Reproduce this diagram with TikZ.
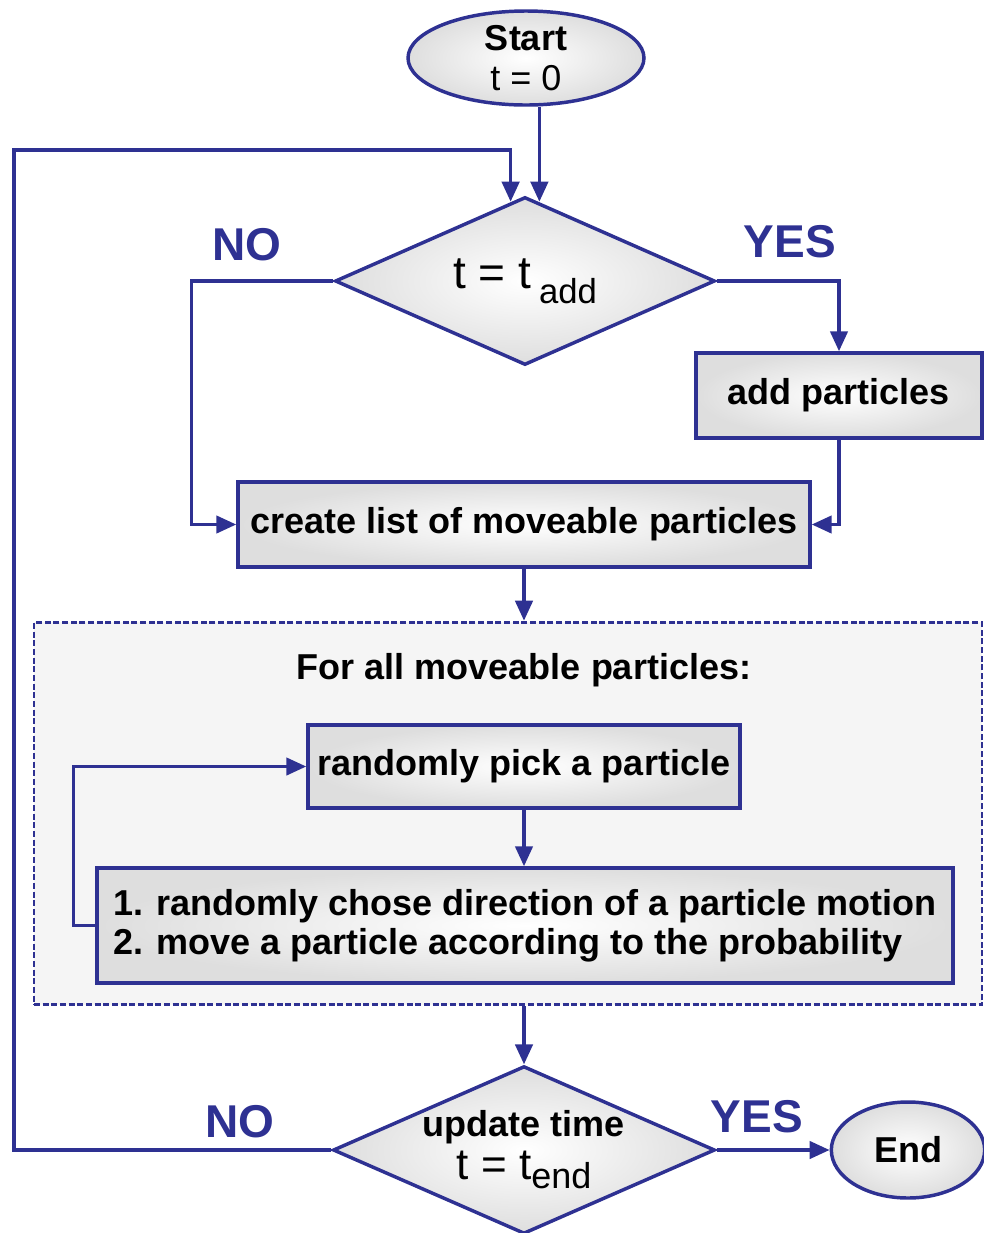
\documentclass[tikz,border=0pt]{standalone}
\usepackage{fontspec}
\setmainfont{Liberation Sans}
\usetikzlibrary{shapes.geometric,arrows.meta,calc}
\definecolor{fcblue}{RGB}{46,49,146}
\begin{document}
\begin{tikzpicture}[x=0.75pt,y=-0.75pt,
  line/.style={draw=fcblue,line width=2.6pt},
  arr/.style={line,-{Triangle[length=15pt,width=13pt]}},
  shaded/.style={draw=fcblue,line width=2.6pt,inner color=white,outer color=black!13,inner sep=0pt},
  box/.style={shaded,rectangle,font=\fontsize{27}{30}\selectfont\bfseries},
  term/.style={shaded,ellipse,font=\fontsize{27}{30}\selectfont},
  dec/.style={shaded,diamond,aspect=2.26,font=\fontsize{27}{30}\selectfont},
  lbl/.style={text=fcblue,font=\fontsize{34.5}{40}\selectfont\bfseries,inner sep=0pt}
]
\useasboundingbox (0,0) rectangle (984,1233);
% dashed loop region
\node[draw=fcblue,line width=2.2pt,dash pattern=on 4.5pt off 2pt,fill=black!4,
      minimum width=711pt,minimum height=287pt,inner sep=0pt] (loopbox) at (508,813.5) {};
\node[font=\fontsize{27}{30}\selectfont\bfseries,inner sep=0pt] (forall) at (524,670) {For all moveable particles:};

\node[term,minimum width=177pt,minimum height=70.5pt,align=center] (start) at (526,58)
  {\textbf{Start}\\t = 0};
\node[dec,minimum width=285pt,minimum height=126pt] (d1) at (525,281)
  {{\fontsize{34.5}{40}\selectfont t = t}\hspace{6pt}\raisebox{-11pt}{\fontsize{26}{30}\selectfont add}};
\node[box,minimum width=214.5pt,minimum height=63.75pt] (add) at (839,395.5) {add particles};
\node[box,minimum width=429pt,minimum height=63.75pt] (create) at (524,524.5) {create list of moveable particles};
\node[box,minimum width=324pt,minimum height=62.25pt] (pick) at (524,766.5) {randomly pick a particle};
\node[box,minimum width=642pt,minimum height=86.25pt,align=left] (move) at (525,925.5)
  {1. randomly chose direction of a particle motion\\[-1pt]2. move a particle according to the probability};
\node[dec,minimum width=286.5pt,minimum height=123pt,align=center] (d2) at (524,1150)
  {\textbf{update time}\\[2pt]{\fontsize{33}{36}\selectfont t = t}\raisebox{-7pt}{\fontsize{27}{30}\selectfont end}};
\node[term,minimum width=115pt,minimum height=72pt] (end) at (908,1150) {\textbf{End}};

\node[lbl] (no1) at (247,245) {NO};
\node[lbl] (yes1) at (790,242) {YES};
\node[lbl] (no2) at (240,1122) {NO};
\node[lbl] (yes2) at (757,1117) {YES};

% connectors
\coordinate (eR) at ($(d1.north)!0.075!(d1.east)$);
\coordinate (eL) at ($(d1.north)!0.075!(d1.west)$);
\coordinate (lx) at (14,150);
\draw[arr] (start.south -| eR) -- (eR);
\draw[arr] (d2.west) -| (lx) -| (eL);
\draw[arr] (d1.west) -- ++(-142,0) |- (create.west);
\draw[arr] (d1.east) -| (add.north);
\draw[arr] (add.south) |- (create.east);
\draw[arr] (create.south) -- (create.south |- loopbox.north);
\draw[arr] (pick.south) -- (pick.south |- move.north);
\draw[arr] (move.west) -- ++(-22,0) |- (pick.west);
\draw[arr] (loopbox.south -| d2.north) -- (d2.north);
\draw[arr] (d2.east) -- (end.west);
\end{tikzpicture}
\end{document}
